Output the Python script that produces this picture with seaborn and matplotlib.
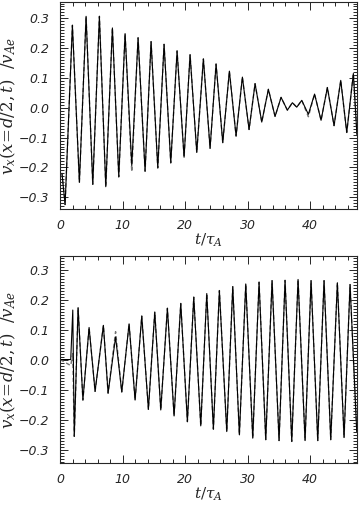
import numpy as np
import pandas as pd
import matplotlib
matplotlib.use("Agg")
import matplotlib.pyplot as plt
import seaborn as sns
from matplotlib.ticker import MultipleLocator

# Extrema (time in t/tau_A, velocity in v_Ae)
top_t = [0.3, 0.8, 1.97, 3.09, 4.16, 5.23, 6.29, 7.31, 8.37, 9.39, 10.4, 11.47,
         12.48, 13.6, 14.56, 15.63, 16.64, 17.71, 18.72, 19.84, 20.8, 21.87,
         22.93, 24.0, 24.96, 26.03, 27.09, 28.16, 29.17, 30.24, 31.2, 32.27,
         33.33, 34.4, 35.36, 36.37, 37.17, 37.87, 38.67, 39.73, 40.72, 41.76,
         42.77, 43.84, 44.91, 45.87, 46.93, 47.5]
top_solid = [-0.22, -0.325, 0.277, -0.25, 0.307, -0.257, 0.307, -0.265, 0.268,
             -0.232, 0.249, -0.194, 0.235, -0.213, 0.222, -0.202, 0.213, -0.185,
             0.191, -0.166, 0.178, -0.15, 0.164, -0.136, 0.147, -0.117, 0.123,
             -0.095, 0.103, -0.073, 0.081, -0.048, 0.062, -0.029, 0.035, -0.008,
             0.017, 0.002, 0.025, -0.022, 0.046, -0.042, 0.068, -0.06, 0.092,
             -0.083, 0.115, -0.09]
# where the dashed curve departs from the solid one (index: value)
top_dashed_diff = {11: -0.215, 39: -0.03}

bot_t = [0.0, 1.7, 2.03, 2.27, 2.88, 3.65, 4.64, 5.6, 6.93, 7.68, 8.88, 9.87,
         11.04, 12.0, 13.07, 14.13, 15.15, 16.11, 17.17, 18.24, 19.31, 20.37,
         21.39, 22.51, 23.47, 24.53, 25.49, 26.67, 27.63, 28.69, 29.71, 30.83,
         31.84, 32.91, 33.92, 35.04, 36.0, 37.07, 38.08, 39.2, 40.16, 41.23,
         42.24, 43.31, 44.37, 45.44, 46.4, 47.47]
bot_solid = [0.0, 0.0, 0.165, -0.256, 0.173, -0.135, 0.107, -0.106, 0.114,
             -0.112, 0.075, -0.108, 0.119, -0.135, 0.145, -0.166, 0.158, -0.168,
             0.171, -0.188, 0.187, -0.207, 0.208, -0.221, 0.22, -0.232, 0.23,
             -0.24, 0.243, -0.251, 0.252, -0.262, 0.258, -0.267, 0.263, -0.27,
             0.264, -0.273, 0.267, -0.27, 0.263, -0.27, 0.263, -0.267, 0.256,
             -0.26, 0.25, -0.24]
bot_dashed_diff = {1: -0.02, 2: 0.02, 10: 0.093}

y_ticks = [-0.3, -0.2, -0.1, 0.0, 0.1, 0.2, 0.3]
y_labels = ["\u22120.3", "\u22120.2", "\u22120.1", "0.0", "0.1", "0.2", "0.3"]
x_ticks = [0, 10, 20, 30, 40]


def with_diff(vals, diff):
    out = list(vals)
    for i, v in diff.items():
        out[i] = v
    return out


sns.set_style("ticks")
plt.rcParams["font.family"] = ["DejaVu Sans"]
plt.rcParams["mathtext.fontset"] = "dejavuserif"

fig = plt.figure(figsize=(3.62, 5.05), dpi=100)
ax_top = fig.add_axes([0.166, 0.586, 0.82, 0.41])
ax_bot = fig.add_axes([0.166, 0.083, 0.82, 0.41])

panels = [
    (ax_top, top_t, top_solid, with_diff(top_solid, top_dashed_diff), (-0.34, 0.355)),
    (ax_bot, bot_t, bot_solid, with_diff(bot_solid, bot_dashed_diff), (-0.345, 0.345)),
]

for ax, t, solid, dashed, ylim in panels:
    df = pd.DataFrame({"t": t, "solid": solid, "dashed": dashed})
    sns.lineplot(data=df, x="t", y="dashed", ax=ax, color="0.45", lw=1.0,
                 linestyle=(0, (3, 2)), sort=False)
    sns.lineplot(data=df, x="t", y="solid", ax=ax, color="black", lw=0.8, sort=False)
    ax.set_xlim(0, 47.5)
    ax.set_ylim(*ylim)
    ax.set_xticks(x_ticks)
    ax.set_xticklabels([str(v) for v in x_ticks], fontstyle="italic")
    ax.xaxis.set_minor_locator(MultipleLocator(2))
    ax.set_yticks(y_ticks)
    ax.set_yticklabels(y_labels, fontstyle="italic")
    ax.yaxis.set_minor_locator(MultipleLocator(0.01))
    ax.tick_params(which="both", direction="in", top=True, right=True,
                   labelsize=9, width=0.7)
    ax.tick_params(axis="x", pad=7)
    ax.tick_params(axis="y", pad=8)
    ax.tick_params(which="major", length=6)
    ax.tick_params(which="minor", length=3)
    for s in ax.spines.values():
        s.set_linewidth(0.8)
    ax.set_xlabel(r"$t/\tau_A$", fontsize=11, labelpad=0)
    ax.set_ylabel(r"$v_x(x\!=\!d/2,t)\ \ /v_{Ae}$", fontsize=12, labelpad=0)

fig.savefig("out.png", dpi=100)
